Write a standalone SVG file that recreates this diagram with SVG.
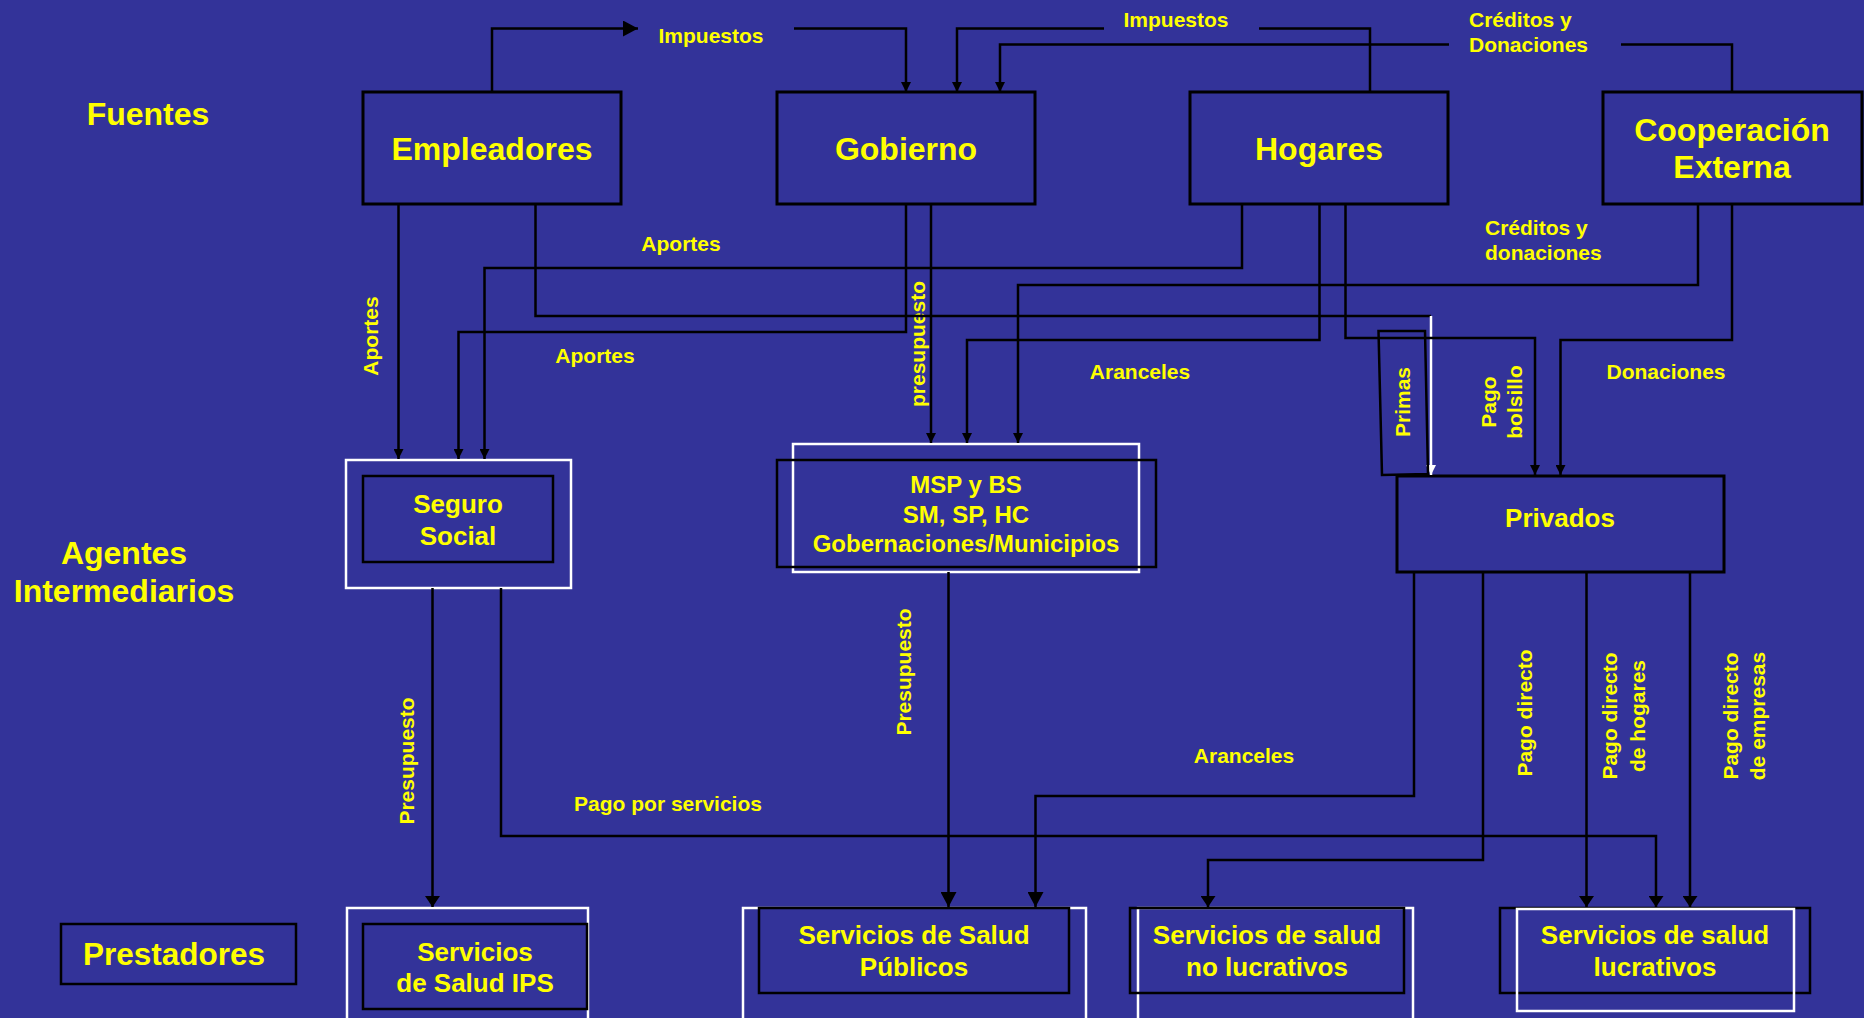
<svg xmlns="http://www.w3.org/2000/svg" width="1864" height="1018" viewBox="0 0 1864 1018">
<defs>
<style>
text{font-family:"Liberation Sans",Arial,sans-serif;font-weight:bold;fill:#FFFF00}
.n{font-size:32px;text-anchor:middle}
.m{font-size:26px;text-anchor:middle}
.l{font-size:21px}
.c{text-anchor:middle}
.box{fill:#333399;stroke:#000;stroke-width:3}
.ib{fill:#333399;stroke:#000;stroke-width:2.5}
.wb{fill:#333399;stroke:#fff;stroke-width:2.5}
.ln{fill:none;stroke:#000;stroke-width:2.5}
.a{marker-end:url(#as)}
.b{marker-end:url(#ab)}
</style>
<marker id="as" markerUnits="userSpaceOnUse" markerWidth="10" markerHeight="10" refX="10" refY="5" orient="auto"><path d="M0,0 L10,5 L0,10 Z" fill="#000"/></marker>
<marker id="ab" markerUnits="userSpaceOnUse" markerWidth="11" markerHeight="15" refX="11" refY="7.5" orient="auto"><path d="M0,0 L11,7.5 L0,15 Z" fill="#000"/></marker>
<marker id="ap" markerUnits="userSpaceOnUse" markerWidth="15" markerHeight="16" refX="15" refY="8" orient="auto"><path d="M0,0 L15,8 L0,16 Z" fill="#000"/></marker>
<marker id="aw" markerUnits="userSpaceOnUse" markerWidth="10" markerHeight="10" refX="10" refY="5" orient="auto"><path d="M0,0 L10,5 L0,10 Z" fill="#fff"/></marker>
</defs>
<rect x="0" y="0" width="1864" height="1018" fill="#333399"/>

<g id="row-labels">
<text class="n" x="148" y="125">Fuentes</text>
<text class="n" x="124" y="564">Agentes</text>
<text class="n" x="124" y="602">Intermediarios</text>
</g>

<g id="empleadores"><rect class="box" x="363" y="92" width="258" height="112"/><text class="n" x="492" y="160">Empleadores</text></g>
<g id="gobierno"><rect class="box" x="777" y="92" width="258" height="112"/><text class="n" x="906" y="160">Gobierno</text></g>
<g id="hogares"><rect class="box" x="1190" y="92" width="258" height="112"/><text class="n" x="1319" y="160">Hogares</text></g>
<g id="cooperacion"><rect class="box" x="1603" y="92" width="259" height="112"/><text class="n" x="1732" y="141">Cooperación</text><text class="n" x="1732" y="178">Externa</text></g>

<g id="seguro-social"><rect class="wb" x="346" y="460" width="225" height="128"/><rect class="ib" x="363" y="476" width="190" height="86"/><text class="m" x="458" y="513">Seguro</text><text class="m" x="458" y="545">Social</text></g>
<g id="msp"><rect class="wb" x="793" y="444" width="346" height="128"/><rect class="ib" x="777" y="460" width="379" height="107" style="fill:none"/><text class="c" style="font-size:24px" x="966" y="493">MSP y BS</text><text class="c" style="font-size:24px" x="966" y="523">SM, SP, HC</text><text class="c" style="font-size:24px" x="966" y="552">Gobernaciones/Municipios</text></g>
<g id="privados"><rect class="box" x="1397" y="476" width="327" height="96"/><text class="m" x="1560" y="527">Privados</text></g>

<g id="prestadores"><rect class="ib" x="61" y="924" width="235" height="60"/><text class="n" style="font-size:31.5px" x="174" y="965">Prestadores</text></g>
<g id="ips"><rect class="wb" x="347" y="908" width="241" height="130"/><rect class="ib" x="363" y="924" width="224" height="85"/><text class="m" x="475" y="961">Servicios</text><text class="m" x="475" y="992">de Salud IPS</text></g>
<g id="publicos"><rect class="wb" x="743" y="908" width="343" height="130"/><rect class="ib" x="759" y="908" width="310" height="85"/><text class="m" x="914" y="944">Servicios de Salud</text><text class="m" x="914" y="976">Públicos</text></g>
<g id="no-lucrativos"><rect class="wb" x="1138" y="908" width="275" height="130"/><rect class="ib" x="1130" y="908" width="274" height="85" style="fill:none"/><text class="m" x="1267" y="944">Servicios de salud</text><text class="m" x="1267" y="976">no lucrativos</text></g>
<g id="lucrativos"><rect class="ib" x="1500" y="908" width="310" height="85"/><rect class="wb" x="1517" y="909" width="277" height="102" style="fill:none"/><text class="m" x="1655" y="944">Servicios de salud</text><text class="m" x="1655" y="976">lucrativos</text></g>

<g id="labels">
<text class="l c" x="711" y="43">Impuestos</text>
<text class="l c" x="1176" y="27">Impuestos</text>
<text class="l" x="1469" y="27">Créditos y</text>
<text class="l" x="1469" y="52">Donaciones</text>
<text class="l c" x="681" y="251">Aportes</text>
<text class="l c" x="595" y="363">Aportes</text>
<text class="l" x="1485" y="235">Créditos y</text>
<text class="l" x="1485" y="260">donaciones</text>
<text class="l c" x="1140" y="379">Aranceles</text>
<text class="l c" x="1666" y="379">Donaciones</text>
<text class="l c" x="1244" y="763">Aranceles</text>
<text class="l c" x="668" y="811">Pago por servicios</text>
<text class="l c" transform="translate(378,336) rotate(-90)">Aportes</text>
<text class="l c" transform="translate(925,344) rotate(-90)">presupuesto</text>
<text class="l c" transform="translate(414,761) rotate(-90)">Presupuesto</text>
<text class="l c" transform="translate(911,672) rotate(-90)">Presupuesto</text>
<text class="l c" transform="translate(1410,402) rotate(-90)">Primas</text>
<text class="l c" transform="translate(1496,402) rotate(-90)">Pago</text>
<text class="l c" transform="translate(1522,402) rotate(-90)">bolsillo</text>
<text class="l c" transform="translate(1532,713) rotate(-90)">Pago directo</text>
<text class="l c" transform="translate(1617,716) rotate(-90)">Pago directo</text>
<text class="l c" transform="translate(1645,716) rotate(-90)">de hogares</text>
<text class="l c" transform="translate(1738,716) rotate(-90)">Pago directo</text>
<text class="l c" transform="translate(1765,716) rotate(-90)">de empresas</text>
</g>

<g id="connectors">
<path class="ln" d="M492,92 V28.5 H638" marker-end="url(#ap)"/>
<path class="ln a" d="M794,28.5 H906 V92"/>
<path class="ln" d="M1370,92 V28.5 H1259"/>
<path class="ln a" d="M1104,28.5 H957 V92"/>
<path class="ln" d="M1732,92 V44.5 H1621"/>
<path class="ln a" d="M1449,44.5 H1000 V92"/>
<path class="ln a" d="M398.5,204 V459"/>
<path class="ln" d="M535.5,204 V316 H1431"/>
<path d="M1431,316 V475" fill="none" stroke="#fff" stroke-width="2.5" marker-end="url(#aw)"/>
<polygon points="1378.5,331 1425,331 1428,474 1382,475" fill="none" stroke="#000" stroke-width="2.5"/>
<path class="ln a" d="M906,204 V332 H458.5 V459"/>
<path class="ln a" d="M931,204 V443"/>
<path class="ln a" d="M1242,204 V268 H484.5 V459"/>
<path class="ln a" d="M1319.5,204 V340 H967 V443"/>
<path class="ln a" d="M1345.5,204 V338 H1535 V475"/>
<path class="ln a" d="M1698,204 V285 H1018 V443"/>
<path class="ln a" d="M1732,204 V340 H1560.5 V475"/>
<path class="ln b" d="M432.5,588 V907"/>
<path class="ln b" d="M501,588 V836 H1656 V907"/>
<path class="ln" d="M948.5,572 V907" marker-end="url(#ap)"/>
<path class="ln" d="M1414,572 V796 H1035.5 V907" marker-end="url(#ap)"/>
<path class="ln b" d="M1483,572 V860 H1208 V907"/>
<path class="ln b" d="M1586.5,572 V907"/>
<path class="ln b" d="M1690,572 V907"/>
</g>
</svg>
